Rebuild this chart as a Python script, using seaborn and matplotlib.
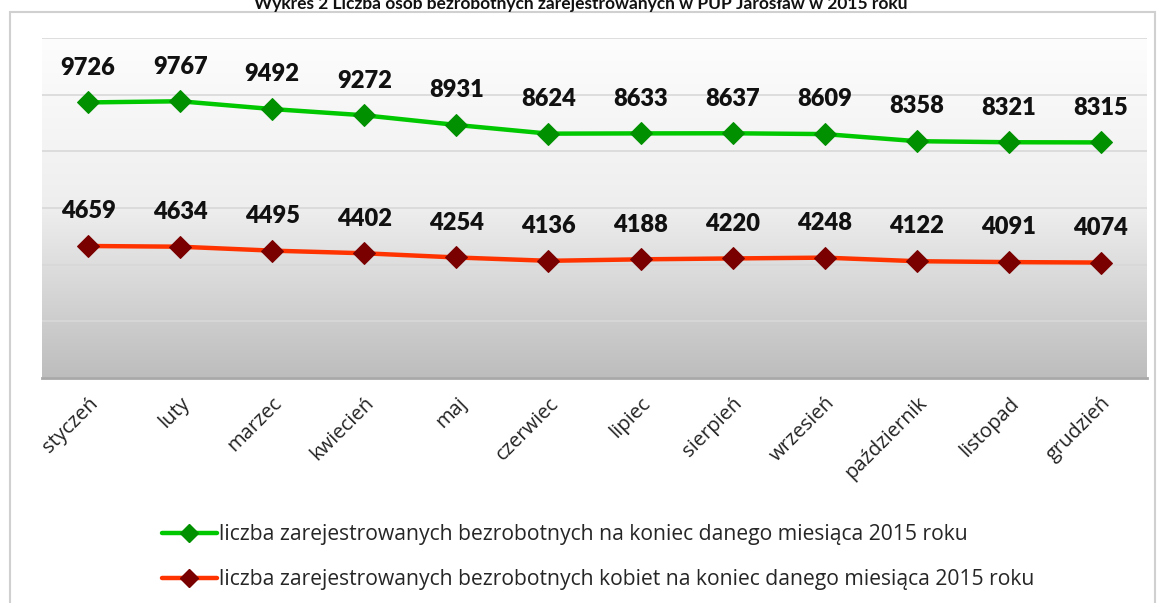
import numpy as np
import pandas as pd
import seaborn as sns
import matplotlib.pyplot as plt
from matplotlib.colors import LinearSegmentedColormap
from matplotlib.lines import Line2D
from matplotlib.patches import Rectangle

miesiace = ["styczeń", "luty", "marzec", "kwiecień", "maj", "czerwiec", "lipiec",
            "sierpień", "wrzesień", "październik", "listopad", "grudzień"]
ogolem = [9726, 9767, 9492, 9272, 8931, 8624, 8633, 8637, 8609, 8358, 8321, 8315]
kobiety = [4659, 4634, 4495, 4402, 4254, 4136, 4188, 4220, 4248, 4122, 4091, 4074]

lab_ogolem = "liczba zarejestrowanych bezrobotnych na koniec danego miesiąca 2015 roku"
lab_kobiety = "liczba zarejestrowanych bezrobotnych kobiet na koniec danego miesiąca 2015 roku"

sns.set_theme(style="white")
plt.rcParams['font.family'] = ['Lato', 'DejaVu Sans']

df = pd.DataFrame({"miesiac": miesiace, "ogolem": ogolem, "kobiety": kobiety})

fig = plt.figure(figsize=(11.62, 6.03), dpi=100)
ax = fig.add_axes([42 / 1162, 1 - 378 / 603, 1105 / 1162, 340 / 603])

# outer chart frame
fig.patches.append(Rectangle((10 / 1162, -0.05), 1145 / 1162, 1 - 12 / 603 + 0.05,
                             transform=fig.transFigure, fill=False,
                             edgecolor="#d0d0d0", lw=1.5, zorder=0))

# gradient background
cmap = LinearSegmentedColormap.from_list("bg", ["#fdfdfd", "#eeeeee", "#bdbdbd"])
grad = np.linspace(0, 1, 256).reshape(-1, 1)
ax.imshow(grad, cmap=cmap, aspect="auto", extent=(-0.5, 11.5, 0, 12000),
          zorder=0, origin="upper")

green_line, green_mk = "#00c800", "#009000"
red_line, red_mk = "#ff3300", "#7a0000"

sns.lineplot(data=df, x="miesiac", y="ogolem", ax=ax, color=green_line, lw=3.2,
             marker="D", markersize=11, markerfacecolor=green_mk,
             markeredgecolor=green_mk, sort=False, zorder=3)
sns.lineplot(data=df, x="miesiac", y="kobiety", ax=ax, color=red_line, lw=3.2,
             marker="D", markersize=11, markerfacecolor=red_mk,
             markeredgecolor=red_mk, sort=False, zorder=3)

for i, (a, b) in enumerate(zip(ogolem, kobiety)):
    for v in (a, b):
        ax.annotate(str(v), (i, v), xytext=(0, 25), textcoords="offset points",
                    ha="center", va="center", fontsize=17, fontweight="heavy",
                    color="#111111", zorder=4)

ax.set_xlim(-0.5, 11.5)
ax.set_ylim(0, 12000)
ax.set_yticks(range(0, 12001, 2000))
ax.set_yticklabels([])
ax.tick_params(axis="y", length=0)
ax.grid(axis="y", color="#d8d8d8", lw=1.2, zorder=1)
ax.set_axisbelow(True)
ax.set_xlabel("")
ax.set_ylabel("")
ax.set_xticks(range(len(miesiace)))
ax.set_xticklabels(miesiace, rotation=45, ha="right", rotation_mode="anchor",
                   fontsize=14.5, color="#222222", family=["Open Sans", "DejaVu Sans"])
ax.tick_params(axis="x", length=0, pad=11)
for s in ["top", "right", "left"]:
    ax.spines[s].set_visible(False)
ax.spines["bottom"].set_color("#a8a8a8")
ax.spines["bottom"].set_linewidth(2)

handles = [
    Line2D([], [], color=green_line, lw=3.2, marker="D", markersize=9,
           markerfacecolor=green_mk, markeredgecolor=green_mk),
    Line2D([], [], color=red_line, lw=3.2, marker="D", markersize=9,
           markerfacecolor=red_mk, markeredgecolor=red_mk),
]
fig.legend(handles, [lab_ogolem, lab_kobiety], loc="upper left",
           bbox_to_anchor=(143 / 1162, 1 - 505 / 603), frameon=False,
           prop={"family": ["Open Sans", "DejaVu Sans"], "size": 15.2},
           handlelength=2.6, handletextpad=0.1, labelspacing=1.15)

fig.text(0.5, 1 - 9 / 603, "Wykres 2 Liczba osób bezrobotnych zarejestrowanych w PUP Jarosław w 2015 roku",
         ha="center", va="baseline", fontsize=12.5, fontweight="bold", color="#111111")

fig.savefig("out.png", dpi=100)
